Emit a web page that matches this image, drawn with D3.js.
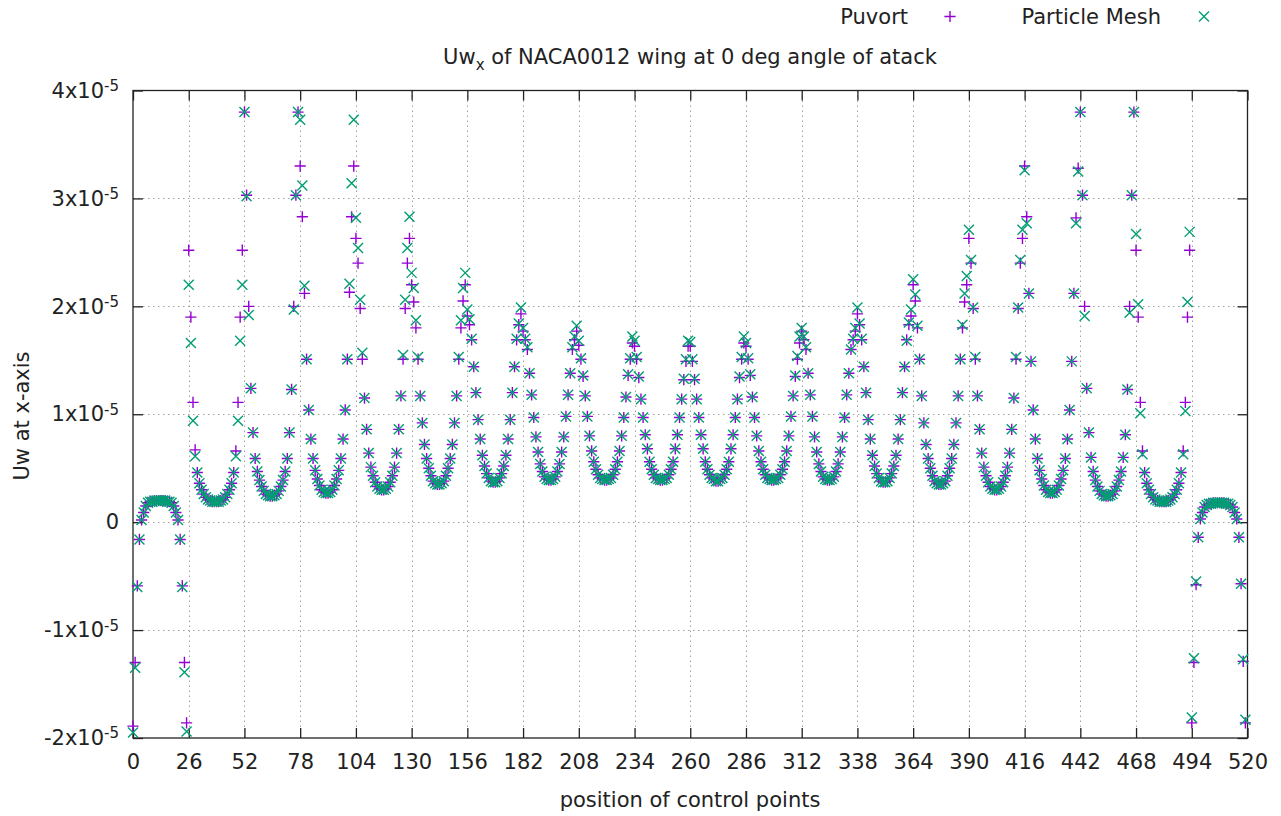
<!DOCTYPE html>
<html>
<head>
<meta charset="utf-8">
<script src="https://cdn.jsdelivr.net/npm/d3@7"></script>
<style>
  body { margin: 0; background: #fff; }
  text { font-family: "DejaVu Sans", sans-serif; fill: #222; }
</style>
</head>
<body>
<svg id="chart" width="1281" height="816"></svg>
<script>
// values in units of 1e-5, one line per panel of 26 control points
const puvort = [
  -1.89,-1.30,-0.59,-0.16,0.02,0.09,0.15,0.18,0.19,0.19,0.20,0.20,0.20,0.20,0.20,0.20,0.19,0.19,0.18,0.15,0.09,0.02,-0.16,-0.59,-1.30,-1.86,
  2.52,1.90,1.11,0.67,0.46,0.36,0.30,0.26,0.23,0.21,0.20,0.19,0.19,0.19,0.19,0.20,0.21,0.23,0.26,0.30,0.36,0.46,0.66,1.11,1.90,2.52,
  3.80,3.03,2.00,1.24,0.83,0.59,0.47,0.39,0.33,0.29,0.26,0.25,0.24,0.24,0.25,0.26,0.29,0.33,0.39,0.47,0.59,0.83,1.23,2.00,3.03,3.80,
  3.30,2.83,2.12,1.51,1.04,0.77,0.59,0.48,0.40,0.34,0.30,0.28,0.27,0.27,0.28,0.30,0.34,0.40,0.48,0.59,0.77,1.04,1.51,2.13,2.83,3.30,
  2.63,2.40,1.98,1.51,1.15,0.86,0.64,0.51,0.43,0.37,0.33,0.31,0.30,0.30,0.31,0.33,0.37,0.43,0.51,0.64,0.86,1.17,1.51,1.98,2.40,2.63,
  2.20,2.04,1.80,1.51,1.17,0.92,0.72,0.59,0.50,0.43,0.38,0.36,0.35,0.35,0.36,0.38,0.43,0.50,0.59,0.72,0.92,1.17,1.51,1.80,2.05,2.20,
  1.91,1.83,1.69,1.44,1.20,0.95,0.77,0.62,0.52,0.45,0.41,0.38,0.37,0.37,0.38,0.41,0.45,0.52,0.62,0.77,0.95,1.20,1.44,1.69,1.83,1.93,
  1.77,1.69,1.60,1.38,1.18,0.97,0.79,0.65,0.54,0.47,0.42,0.40,0.39,0.39,0.40,0.42,0.47,0.54,0.65,0.79,0.98,1.18,1.38,1.60,1.69,1.77,
  1.64,1.51,1.35,1.17,0.98,0.80,0.66,0.56,0.49,0.44,0.41,0.40,0.39,0.39,0.40,0.41,0.44,0.49,0.56,0.66,0.80,0.97,1.16,1.36,1.51,1.66,
  1.63,1.51,1.34,1.14,0.97,0.81,0.68,0.56,0.49,0.44,0.41,0.40,0.39,0.39,0.40,0.41,0.44,0.49,0.56,0.68,0.81,0.97,1.14,1.32,1.49,1.63,
  1.63,1.49,1.32,1.14,0.97,0.81,0.68,0.56,0.49,0.44,0.41,0.40,0.38,0.38,0.40,0.41,0.44,0.49,0.56,0.68,0.81,0.97,1.14,1.34,1.51,1.66,
  1.63,1.51,1.36,1.16,0.97,0.80,0.66,0.56,0.49,0.44,0.41,0.40,0.39,0.39,0.40,0.41,0.44,0.49,0.56,0.66,0.80,0.98,1.17,1.35,1.51,1.66,
  1.77,1.69,1.60,1.38,1.18,0.98,0.79,0.65,0.54,0.47,0.42,0.40,0.39,0.39,0.40,0.42,0.47,0.54,0.65,0.79,0.97,1.18,1.38,1.60,1.69,1.77,
  1.93,1.83,1.69,1.44,1.20,0.95,0.77,0.62,0.52,0.45,0.41,0.38,0.37,0.37,0.38,0.41,0.45,0.52,0.62,0.77,0.95,1.20,1.44,1.69,1.83,1.91,
  2.20,2.05,1.80,1.51,1.17,0.92,0.72,0.59,0.50,0.43,0.38,0.36,0.35,0.35,0.36,0.38,0.43,0.50,0.59,0.72,0.92,1.17,1.51,1.80,2.04,2.20,
  2.63,2.40,1.98,1.51,1.17,0.86,0.64,0.51,0.43,0.37,0.33,0.31,0.30,0.30,0.31,0.33,0.37,0.43,0.51,0.64,0.86,1.15,1.51,1.98,2.40,2.63,
  3.30,2.83,2.12,1.49,1.04,0.77,0.59,0.48,0.40,0.34,0.30,0.28,0.27,0.27,0.28,0.30,0.34,0.40,0.48,0.59,0.77,1.04,1.49,2.12,2.82,3.28,
  3.80,3.03,2.00,1.24,0.83,0.60,0.47,0.39,0.33,0.29,0.26,0.25,0.24,0.24,0.25,0.26,0.29,0.33,0.39,0.47,0.60,0.81,1.23,2.00,3.03,3.80,
  2.52,1.90,1.11,0.66,0.46,0.36,0.30,0.26,0.23,0.21,0.20,0.19,0.19,0.19,0.19,0.20,0.21,0.23,0.26,0.30,0.36,0.46,0.66,1.11,1.90,2.52,
  -1.86,-1.30,-0.58,-0.14,0.03,0.09,0.14,0.16,0.17,0.17,0.18,0.18,0.18,0.18,0.18,0.18,0.17,0.17,0.16,0.14,0.09,0.03,-0.14,-0.57,-1.29,-1.86
];

const particleMesh = [
  -1.95,-1.35,-0.60,-0.16,0.02,0.09,0.15,0.18,0.19,0.19,0.20,0.20,0.20,0.20,0.20,0.20,0.19,0.19,0.18,0.15,0.09,0.02,-0.16,-0.60,-1.39,-1.94,
  2.20,1.66,0.94,0.61,0.46,0.36,0.30,0.26,0.23,0.21,0.20,0.19,0.19,0.19,0.19,0.20,0.21,0.23,0.26,0.30,0.36,0.46,0.61,0.94,1.68,2.20,
  3.80,3.02,1.92,1.24,0.83,0.59,0.47,0.39,0.33,0.29,0.26,0.25,0.24,0.24,0.25,0.26,0.29,0.33,0.39,0.47,0.59,0.83,1.23,1.97,3.03,3.80,
  3.73,3.12,2.19,1.51,1.04,0.77,0.59,0.48,0.40,0.34,0.30,0.28,0.27,0.27,0.28,0.30,0.34,0.40,0.48,0.59,0.77,1.04,1.51,2.21,3.14,3.73,
  2.82,2.54,2.06,1.57,1.15,0.86,0.64,0.51,0.43,0.37,0.33,0.31,0.30,0.30,0.31,0.33,0.37,0.43,0.51,0.64,0.86,1.17,1.55,2.06,2.54,2.83,
  2.31,2.17,1.87,1.53,1.17,0.92,0.72,0.59,0.50,0.43,0.38,0.36,0.35,0.35,0.36,0.38,0.43,0.50,0.59,0.72,0.92,1.17,1.53,1.87,2.17,2.31,
  1.97,1.88,1.70,1.44,1.20,0.95,0.77,0.62,0.52,0.45,0.41,0.38,0.37,0.37,0.38,0.41,0.45,0.52,0.62,0.77,0.95,1.20,1.44,1.70,1.84,1.99,
  1.80,1.70,1.62,1.38,1.18,0.97,0.79,0.65,0.54,0.47,0.42,0.40,0.39,0.39,0.40,0.42,0.47,0.54,0.65,0.79,0.98,1.18,1.38,1.62,1.72,1.82,
  1.68,1.52,1.36,1.17,0.98,0.80,0.66,0.56,0.49,0.44,0.41,0.40,0.39,0.39,0.40,0.41,0.44,0.49,0.56,0.66,0.80,0.97,1.16,1.37,1.52,1.72,
  1.68,1.53,1.35,1.14,0.97,0.81,0.68,0.56,0.49,0.44,0.41,0.40,0.39,0.39,0.40,0.41,0.44,0.49,0.56,0.68,0.81,0.97,1.14,1.33,1.51,1.68,
  1.67,1.51,1.33,1.14,0.97,0.81,0.68,0.56,0.49,0.44,0.41,0.40,0.38,0.38,0.40,0.41,0.44,0.49,0.56,0.68,0.81,0.97,1.14,1.35,1.53,1.72,
  1.66,1.52,1.37,1.16,0.97,0.80,0.66,0.56,0.49,0.44,0.41,0.40,0.39,0.39,0.40,0.41,0.44,0.49,0.56,0.66,0.80,0.98,1.17,1.36,1.54,1.72,
  1.80,1.72,1.62,1.38,1.18,0.98,0.79,0.65,0.54,0.47,0.42,0.40,0.39,0.39,0.40,0.42,0.47,0.54,0.65,0.79,0.97,1.18,1.38,1.60,1.70,1.80,
  1.99,1.84,1.70,1.44,1.20,0.95,0.77,0.62,0.52,0.45,0.41,0.38,0.37,0.37,0.38,0.41,0.45,0.52,0.62,0.77,0.95,1.20,1.44,1.68,1.85,1.97,
  2.25,2.11,1.82,1.51,1.17,0.92,0.72,0.59,0.50,0.43,0.38,0.36,0.35,0.35,0.36,0.38,0.43,0.50,0.59,0.72,0.92,1.17,1.51,1.83,2.12,2.28,
  2.71,2.43,1.99,1.53,1.17,0.86,0.64,0.51,0.43,0.37,0.33,0.31,0.30,0.30,0.31,0.33,0.37,0.43,0.51,0.64,0.86,1.15,1.53,1.99,2.43,2.71,
  3.26,2.77,2.12,1.49,1.04,0.77,0.59,0.48,0.40,0.34,0.30,0.28,0.27,0.27,0.28,0.30,0.34,0.40,0.48,0.59,0.77,1.04,1.49,2.12,2.77,3.25,
  3.80,3.03,1.91,1.24,0.83,0.60,0.47,0.39,0.33,0.29,0.26,0.25,0.24,0.24,0.25,0.26,0.29,0.33,0.39,0.47,0.60,0.81,1.23,1.94,3.03,3.80,
  2.67,2.02,1.01,0.63,0.46,0.36,0.30,0.26,0.23,0.21,0.20,0.19,0.19,0.19,0.19,0.20,0.21,0.23,0.26,0.30,0.36,0.46,0.63,1.03,2.04,2.69,
  -1.81,-1.26,-0.55,-0.14,0.03,0.09,0.14,0.16,0.17,0.17,0.18,0.18,0.18,0.18,0.18,0.18,0.17,0.17,0.16,0.14,0.09,0.03,-0.14,-0.57,-1.27,-1.83
];

const xTicks = [0, 26, 52, 78, 104, 130, 156, 182, 208, 234, 260, 286, 312, 338, 364, 390, 416, 442, 468, 494, 520];
const yTicks = [-2, -1, 0, 1, 2, 3, 4];
const seriesNames = ['Puvort', 'Particle Mesh'];
const colors = ['#9400d3', '#009e73'];

const fontSize = 21;
const plot = { left: 133, right: 1247.5, top: 90.5, bottom: 738 };

const svg = d3.select('#chart');

const x = d3.scaleLinear().domain([0, 520]).range([plot.left, plot.right]);
const y = d3.scaleLinear().domain([-2, 4]).range([plot.bottom, plot.top]);

// grid
const grid = svg.append('g')
  .attr('stroke', '#a0a0a0')
  .attr('stroke-width', 1)
  .attr('stroke-dasharray', '1.5,3.5');

grid.selectAll('.gx')
  .data(xTicks.slice(1, -1))
  .enter().append('line')
  .attr('x1', d => Math.round(x(d)) + 0.5).attr('x2', d => Math.round(x(d)) + 0.5)
  .attr('y1', plot.top).attr('y2', plot.bottom);

grid.selectAll('.gy')
  .data(yTicks.slice(1, -1))
  .enter().append('line')
  .attr('y1', d => Math.round(y(d)) + 0.5).attr('y2', d => Math.round(y(d)) + 0.5)
  .attr('x1', plot.left).attr('x2', plot.right);

// axes (inward ticks, gnuplot style)
svg.append('g')
  .attr('transform', `translate(0,${plot.bottom})`)
  .call(d3.axisBottom(x).tickValues(xTicks).tickSizeInner(-10).tickSizeOuter(0).tickPadding(16));

svg.append('g')
  .attr('transform', `translate(0,${plot.top})`)
  .call(d3.axisTop(x).tickValues(xTicks).tickSizeInner(-10).tickSizeOuter(0).tickFormat(''));

const yAxis = svg.append('g')
  .attr('transform', `translate(${plot.left},0)`)
  .call(d3.axisLeft(y).tickValues(yTicks).tickSizeInner(-10).tickSizeOuter(0).tickPadding(14));

svg.append('g')
  .attr('transform', `translate(${plot.right},0)`)
  .call(d3.axisRight(y).tickValues(yTicks).tickSizeInner(-10).tickSizeOuter(0).tickFormat(''));

svg.selectAll('.domain').remove();
svg.selectAll('.tick line').attr('stroke', '#222').attr('stroke-width', 1.3);
svg.selectAll('.tick text').attr('font-family', '"DejaVu Sans", sans-serif').attr('font-size', fontSize).attr('fill', '#222');

yAxis.selectAll('.tick text').each(function (d) {
  const t = d3.select(this).text('');
  if (d === 0) { t.text('0'); return; }
  t.append('tspan').text(`${d}x10`);
  t.append('tspan').attr('dy', '-0.45em').attr('font-size', 15).text('-5');
});

// border
svg.append('rect')
  .attr('x', plot.left).attr('y', plot.top)
  .attr('width', plot.right - plot.left).attr('height', plot.bottom - plot.top)
  .attr('fill', 'none').attr('stroke', '#222').attr('stroke-width', 1.3);

// markers
const plusPath = 'M-5.6,0H5.6M0,-5.6V5.6';
const crossPath = 'M-5,-5L5,5M-5,5L5,-5';

const marks = svg.append('g').attr('fill', 'none').attr('stroke-width', 1.4);

marks.append('g').attr('stroke', colors[0])
  .selectAll('path')
  .data(puvort)
  .enter().append('path')
  .attr('d', plusPath)
  .attr('transform', (d, i) => `translate(${x(i)},${y(d)})`);

marks.append('g').attr('stroke', colors[1])
  .selectAll('path')
  .data(particleMesh)
  .enter().append('path')
  .attr('d', crossPath)
  .attr('transform', (d, i) => `translate(${x(i)},${y(d)})`);

// title
const title = svg.append('text')
  .attr('x', 690).attr('y', 64)
  .attr('text-anchor', 'middle')
  .attr('font-size', fontSize);
title.append('tspan').text('Uw');
title.append('tspan').attr('dy', 6).attr('font-size', 15).text('x');
title.append('tspan').attr('dy', -6).text(' of NACA0012 wing at 0 deg angle of atack');

// axis labels
svg.append('text')
  .attr('x', 690).attr('y', 807)
  .attr('text-anchor', 'middle')
  .attr('font-size', fontSize)
  .text('position of control points');

svg.append('text')
  .attr('transform', 'translate(29,416) rotate(-90)')
  .attr('text-anchor', 'middle')
  .attr('font-size', fontSize)
  .text('Uw at x-axis');

// legend
const legend = [
  { name: seriesNames[0], textX: 908, markX: 950, path: plusPath, color: colors[0] },
  { name: seriesNames[1], textX: 1161, markX: 1204, path: crossPath, color: colors[1] }
];
const lg = svg.append('g');
lg.selectAll('text')
  .data(legend)
  .enter().append('text')
  .attr('x', d => d.textX).attr('y', 24)
  .attr('text-anchor', 'end')
  .attr('font-size', fontSize)
  .text(d => d.name);
lg.selectAll('path')
  .data(legend)
  .enter().append('path')
  .attr('d', d => d.path)
  .attr('transform', d => `translate(${d.markX},16.5)`)
  .attr('fill', 'none')
  .attr('stroke', d => d.color)
  .attr('stroke-width', 1.4);
</script>
</body>
</html>
